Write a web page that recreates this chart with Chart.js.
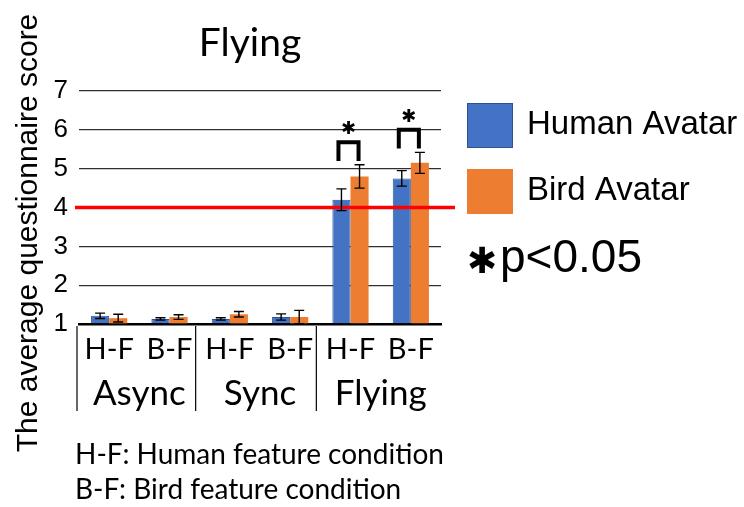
<!DOCTYPE html>
<html>
<head>
<meta charset="utf-8">
<script src="https://cdn.jsdelivr.net/npm/chart.js@4/dist/chart.umd.min.js"></script>
<style>
  html, body { margin: 0; padding: 0; background: #ffffff; }
  #wrap { width: 744px; height: 507px; }
</style>
</head>
<body>
<div id="wrap"><canvas id="c" width="744" height="507"></canvas></div>
<script>
// Conditions (x axis) and the experiment phases they belong to
const categories = ['H-F', 'B-F', 'H-F', 'B-F', 'H-F', 'B-F'];
const groups = ['Async', 'Sync', 'Flying'];

// Series: mean questionnaire score and its error, per condition
const seriesNames = ['Human Avatar', 'Bird Avatar'];
const humanScores = [1.21, 1.13, 1.13, 1.18, 4.20, 4.75];
const humanErrors = [0.07, 0.03, 0.03, 0.08, 0.28, 0.20];
const birdScores  = [1.15, 1.18, 1.25, 1.18, 4.80, 5.15];
const birdErrors  = [0.10, 0.06, 0.07, 0.17, 0.30, 0.27];

// Conditions where the two avatars differ significantly
const significant = [4, 5];

// Value axis
const yMin = 1;
const yMax = 7;
const threshold = 4;

const footnotes = ['H-F: Human feature condition', 'B-F: Bird feature condition'];
const sigNote = 'p<0.05';
const chartTitle = 'Flying';
const yTitle = 'The average questionnaire score';

const BLUE = '#4472C4';
const BLUE_EDGE = '#2F528F';
const ORANGE = '#ED7D31';
const SANS = '"Liberation Sans", Arial, sans-serif';
const LATO = 'Lato, "Open Sans", sans-serif';
const STAR = '✱';
const STAR_FONT = '"DejaVu Sans", sans-serif';

// Error bars, reference line, significance brackets
const overlays = {
  id: 'overlays',
  afterDatasetsDraw(chart) {
    const { ctx, chartArea, scales: { y } } = chart;
    ctx.save();

    // red reference line at the scale midpoint
    const ty = y.getPixelForValue(threshold);
    ctx.strokeStyle = '#FF0000';
    ctx.lineWidth = 3.5;
    ctx.beginPath();
    ctx.moveTo(chartArea.left - 4, ty);
    ctx.lineTo(chartArea.right + 14, ty);
    ctx.stroke();

    // error bars
    ctx.strokeStyle = '#000000';
    ctx.lineWidth = 1.4;
    chart.data.datasets.forEach((ds, i) => {
      const meta = chart.getDatasetMeta(i);
      meta.data.forEach((bar, j) => {
        const v = ds.data[j], e = ds.errors[j];
        const t = y.getPixelForValue(v + e), b = y.getPixelForValue(v - e);
        const x = bar.x, cap = 5;
        ctx.beginPath();
        ctx.moveTo(x, t); ctx.lineTo(x, b);
        ctx.moveTo(x - cap, t); ctx.lineTo(x + cap, t);
        ctx.moveTo(x - cap, b); ctx.lineTo(x + cap, b);
        ctx.stroke();
      });
    });

    // significance brackets with asterisks
    const m0 = chart.getDatasetMeta(0), m1 = chart.getDatasetMeta(1);
    significant.forEach(j => {
      const d0 = chart.data.datasets[0], d1 = chart.data.datasets[1];
      const peak = Math.max(d0.data[j] + d0.errors[j], d1.data[j] + d1.errors[j]);
      const legBottom = y.getPixelForValue(peak + 0.1);
      const barTop = y.getPixelForValue(peak + 0.58);
      const x0 = m0.data[j].x - 3, x1 = m1.data[j].x - 1;
      ctx.strokeStyle = '#000000';
      ctx.lineWidth = 4;
      ctx.lineCap = 'butt';
      ctx.beginPath();
      ctx.moveTo(x0, legBottom);
      ctx.lineTo(x0, barTop);
      ctx.lineTo(x1, barTop);
      ctx.lineTo(x1, legBottom);
      ctx.stroke();
      ctx.fillStyle = '#000000';
      ctx.font = '18px ' + STAR_FONT;
      ctx.textAlign = 'center';
      ctx.textBaseline = 'middle';
      ctx.fillText(STAR, (x0 + x1) / 2, barTop - 13);
    });
    ctx.restore();
  },
  afterDraw(chart) {
    const { ctx, chartArea, scales: { x } } = chart;
    ctx.save();
    ctx.fillStyle = '#000000';
    ctx.textBaseline = 'middle';

    // title
    ctx.font = '39px ' + LATO;
    ctx.textAlign = 'center';
    ctx.fillText(chartTitle, (chartArea.left + chartArea.right) / 2 - 10, 43);

    // value axis title
    ctx.save();
    ctx.translate(29, 233);
    ctx.rotate(-Math.PI / 2);
    ctx.font = '30px ' + SANS;
    ctx.fillText(yTitle, 0, 0);
    ctx.restore();

    // phase labels and separators under the axis
    ctx.strokeStyle = '#000000';
    ctx.lineWidth = 1.2;
    ctx.font = '35px ' + LATO;
    groups.forEach((g, k) => {
      const a = 2 * k, b = 2 * k + 1;
      const cx = (x.getPixelForValue(a) + x.getPixelForValue(b)) / 2;
      ctx.fillText(g, cx, 394);
      const sx = k === 0 ? chartArea.left - 2
        : (x.getPixelForValue(a - 1) + x.getPixelForValue(a)) / 2 - 4;
      ctx.beginPath();
      ctx.moveTo(sx, chartArea.bottom + 2);
      ctx.lineTo(sx, 411);
      ctx.stroke();
    });

    // footnotes
    ctx.textAlign = 'left';
    ctx.font = '28px ' + LATO;
    footnotes.forEach((t, k) => ctx.fillText(t, 75, 455 + k * 35));

    // legend
    const swatches = [[BLUE, BLUE_EDGE], [ORANGE, ORANGE]];
    chart.data.datasets.forEach((ds, i) => {
      const top = 103 + i * 66;
      ctx.fillStyle = swatches[i][0];
      ctx.fillRect(467, top, 46, 45);
      ctx.strokeStyle = swatches[i][1];
      ctx.lineWidth = 1;
      ctx.strokeRect(467.5, top + 0.5, 45, 44);
      ctx.fillStyle = '#000000';
      ctx.font = '33px ' + SANS;
      ctx.fillText(ds.label, 527, top + 22);
    });

    // significance key
    ctx.font = '36px ' + STAR_FONT;
    ctx.textAlign = 'center';
    ctx.fillText(STAR, 482, 264);
    ctx.textAlign = 'left';
    ctx.font = '46px ' + SANS;
    ctx.fillText(sigNote, 500, 259);
    ctx.restore();
  }
};

new Chart(document.getElementById('c'), {
  type: 'bar',
  data: {
    labels: categories,
    datasets: [
      { label: seriesNames[0], data: humanScores, errors: humanErrors,
        backgroundColor: BLUE, borderColor: BLUE_EDGE, borderWidth: 1, base: yMin },
      { label: seriesNames[1], data: birdScores, errors: birdErrors,
        backgroundColor: ORANGE, borderColor: ORANGE, borderWidth: 0, base: yMin }
    ]
  },
  options: {
    responsive: false,
    animation: false,
    events: [],
    layout: { padding: { left: 0, top: 91, right: 303, bottom: 0 } },
    datasets: { bar: { categoryPercentage: 0.6, barPercentage: 1.0 } },
    plugins: { legend: { display: false }, tooltip: { enabled: false }, title: { display: false } },
    scales: {
      x: {
        grid: { display: false },
        border: { display: true, color: '#000000', width: 2.5 },
        ticks: { color: '#000000', font: { family: LATO, size: 29 }, padding: 0,
                 maxRotation: 0, autoSkip: false },
        afterFit(s) { s.height = 183; }
      },
      y: {
        min: yMin, max: yMax,
        border: { display: false },
        grid: { color: '#303030', lineWidth: 1.3, drawTicks: false },
        ticks: { stepSize: 1, color: '#000000', font: { family: SANS, size: 26 }, padding: 11 },
        afterFit(s) { s.width = 79; }
      }
    }
  },
  plugins: [overlays]
});
</script>
</body>
</html>
